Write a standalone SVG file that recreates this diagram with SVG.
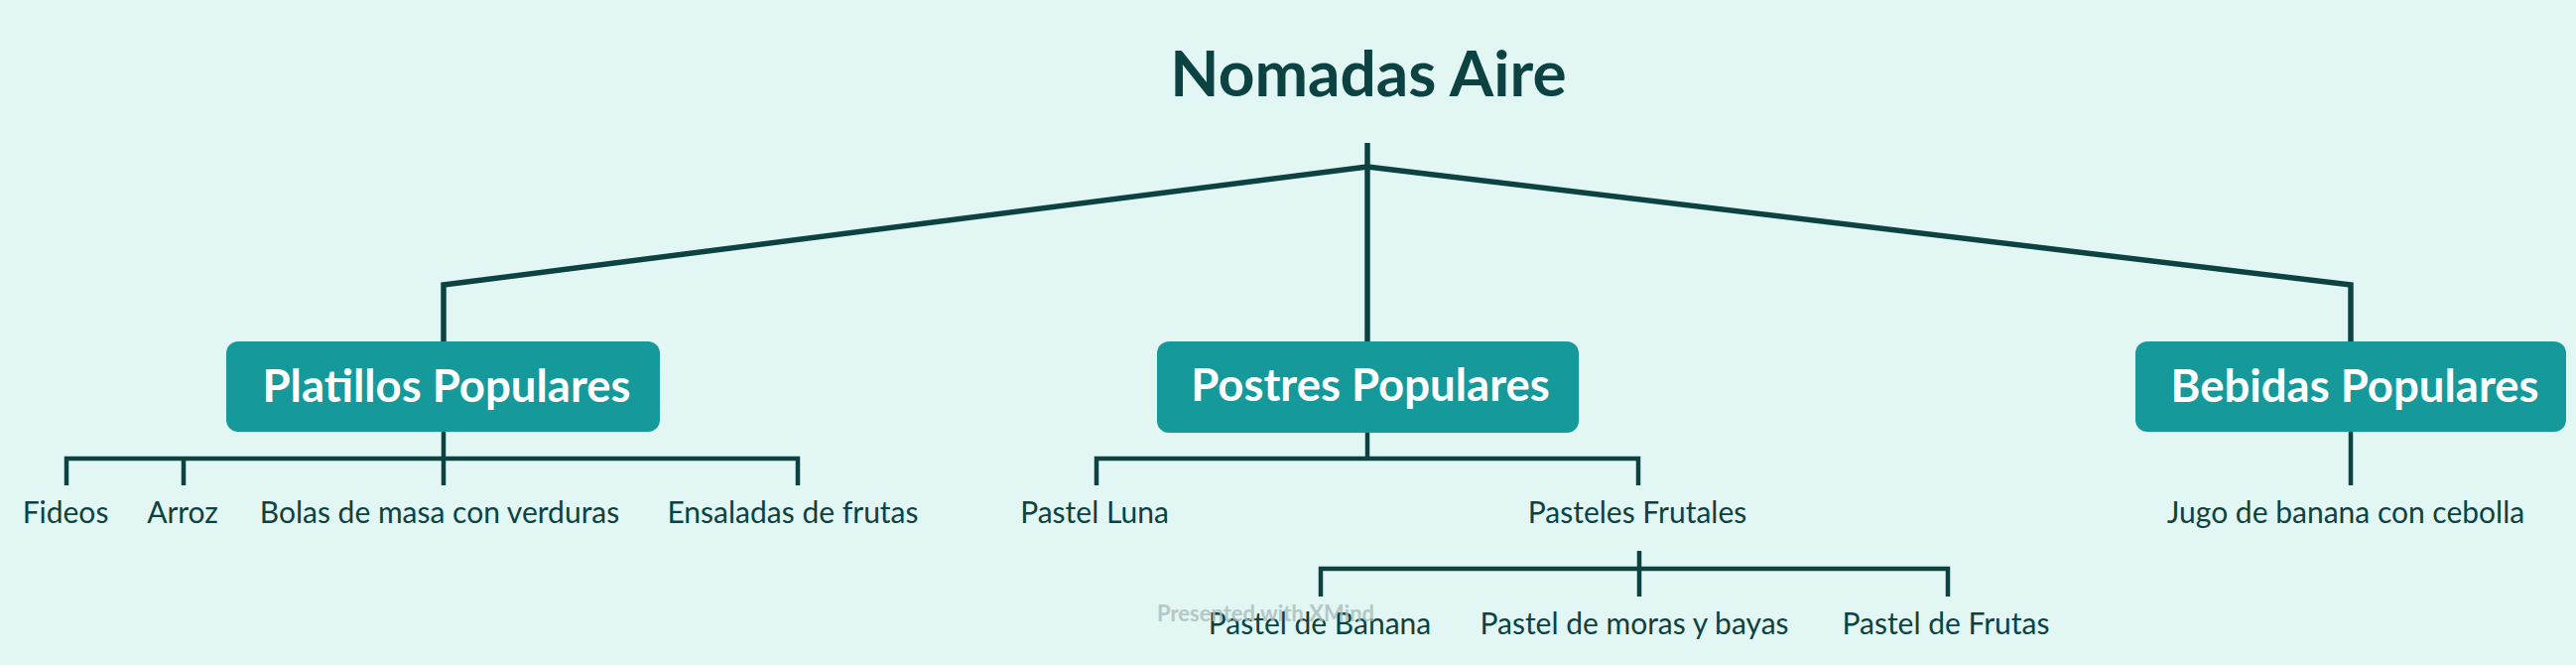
<svg xmlns="http://www.w3.org/2000/svg" width="2596" height="670" viewBox="0 0 2596 670">
<style>
.bg{fill:#e2f7f4}
.line{fill:none;stroke:#0c4242;stroke-width:5.5;stroke-linejoin:miter}
.thin{fill:none;stroke:#0c4242;stroke-width:4.5}
.box{fill:#15999b}
.title{font-family:Lato,"Open Sans",sans-serif;font-weight:bold;font-size:64px;fill:#0c4242;text-anchor:middle}
.main{font-family:Lato,"Open Sans",sans-serif;font-weight:bold;font-size:45.5px;fill:#ffffff;text-anchor:middle}
.sub{font-family:Lato,"Open Sans",sans-serif;font-size:30px;fill:#0c4242;text-anchor:middle}
.wm{font-family:Lato,"Open Sans",sans-serif;font-weight:bold;font-size:22px;fill:#a9bdba;opacity:0.8}
</style>
<rect class="bg" x="0" y="0" width="2596" height="670"/>
<g id="connectors">
<path class="line" d="M1378 144 V344"/>
<path class="line" d="M1378 168 L447 287 V344"/>
<path class="line" d="M1378 168 L2369 287 V344"/>
<path class="thin" d="M447 435 V462 M67 489 V462 H804 V489 M185 462 V489 M447 462 V489"/>
<path class="thin" d="M1378 436 V462 M1105 489 V462 H1651 V489"/>
<path class="thin" d="M1652 555 V573 M1331 601 V573 H1963 V601 M1652 573 V601"/>
<path class="thin" d="M2369 435 V489"/>
</g>
<g id="root"><text class="title" x="1379" y="97">Nomadas Aire</text></g>
<g id="platillos"><rect class="box" x="228" y="344" width="437" height="91" rx="12"/><text class="main" x="450" y="405">Platillos Populares</text></g>
<g id="postres"><rect class="box" x="1166" y="344" width="425" height="92" rx="12"/><text class="main" x="1381" y="404">Postres Populares</text></g>
<g id="bebidas"><rect class="box" x="2152" y="344" width="434" height="91" rx="12"/><text class="main" x="2373" y="405">Bebidas Populares</text></g>
<g id="fideos"><text class="sub" x="66" y="527">Fideos</text></g>
<g id="arroz"><text class="sub" x="184" y="527">Arroz</text></g>
<g id="bolas"><text class="sub" x="443" y="527">Bolas de masa con verduras</text></g>
<g id="ensaladas"><text class="sub" x="799" y="527">Ensaladas de frutas</text></g>
<g id="pastel-luna"><text class="sub" x="1103" y="527">Pastel Luna</text></g>
<g id="pasteles-frutales"><text class="sub" x="1650" y="527">Pasteles Frutales</text></g>
<g id="pastel-banana"><text class="sub" x="1330" y="639">Pastel de Banana</text></g>
<g id="pastel-moras"><text class="sub" x="1647" y="639">Pastel de moras y bayas</text></g>
<g id="pastel-frutas"><text class="sub" x="1961" y="639">Pastel de Frutas</text></g>
<g id="jugo"><text class="sub" x="2364" y="527">Jugo de banana con cebolla</text></g>
<text class="wm" x="1166" y="626">Presented with XMind</text>
</svg>
